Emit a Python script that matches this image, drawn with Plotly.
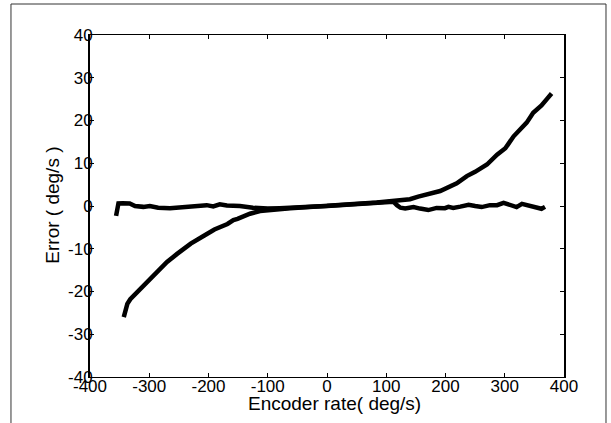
import plotly.graph_objects as go

# Curve 1: large cubic-like error
x1 = [-343, -340, -337, -332, -315, -298, -281, -270, -253, -237, -230, -207, -197, -190,
      -168, -158, -151, -135, -130, -113, -96, -62, -17, 0, 39, 84, 112, 120, 129, 140,
      154, 169, 191, 219, 236, 250, 270, 287, 301, 315, 337, 348, 362, 371, 379]
y1 = [-26.0, -24.0, -22.9, -21.8, -19.4, -17.0, -14.7, -13.1, -11.2, -9.3, -8.8, -6.9, -5.9, -5.5,
      -4.2, -3.3, -3.0, -2.0, -1.8, -1.2, -0.9, -0.5, -0.1, 0.0, 0.4, 0.8, 1.2, 1.5, 1.6, 1.6,
      2.2, 2.7, 3.5, 5.3, 7.0, 8.0, 9.7, 12.0, 13.5, 16.3, 19.5, 21.8, 23.5, 25.0, 26.3]

# Curve 2: compensated (flat) error
x2 = [-356, -352, -345, -333, -324, -310, -299, -285, -265, -243, -226, -214, -203, -192,
      -181, -169, -147, -125, -113, -100, -80, -60, -40, -20, 0, 20, 40, 60, 80, 100, 112,
      118, 124, 132, 146, 157, 171, 185, 199, 205, 213, 225, 239, 250, 261, 275, 287, 298,
      309, 320, 329, 340, 351, 362, 368]
y2 = [-2.3, 0.6, 0.65, 0.6, 0.0, -0.2, 0.0, -0.4, -0.5, -0.25, -0.2, 0.0, 0.2, -0.1,
      0.4, 0.1, 0.0, -0.4, -0.6, -0.6, -0.5, -0.45, -0.3, -0.1, 0.0, 0.15, 0.3, 0.4, 0.6, 0.8, 1.0,
      0.2, -0.4, -0.6, -0.25, -0.6, -0.95, -0.45, -0.5, -0.2, -0.45, -0.15, 0.3, 0.0, -0.25, 0.2,
      0.2, 0.75, 0.2, -0.25, 0.5, 0.1, -0.25, -0.65, -0.2]

x_ticks = [-400, -300, -200, -100, 0, 100, 200, 300, 400]
y_ticks = [-40, -30, -20, -10, 0, 10, 20, 30, 40]
x_title = "Encoder rate( deg/s)"
y_title = "Error ( deg/s )"

FONT = "Arial, Liberation Sans, sans-serif"

fig = go.Figure()
for xs, ys in [(x1, y1), (x2, y2)]:
    fig.add_trace(go.Scatter(x=xs, y=ys, mode="lines",
                             line=dict(color="black", width=4.5),
                             showlegend=False, hoverinfo="skip"))

fig.update_layout(
    width=611, height=423,
    margin=dict(l=90, r=47, t=35, b=46),
    paper_bgcolor="white", plot_bgcolor="white",
    font=dict(family=FONT, size=17, color="black"),
    xaxis=dict(range=[-400, 400], tickvals=x_ticks, ticktext=[str(v) for v in x_ticks],
               ticks="inside", ticklen=4, tickwidth=1, tickcolor="black",
               showline=True, linecolor="black", linewidth=1, mirror="allticks",
               showgrid=False, zeroline=False, ticklabelstandoff=-6,
               automargin=False),
    yaxis=dict(range=[-40, 40], tickvals=y_ticks, ticktext=[str(v) for v in y_ticks],
               ticks="inside", ticklen=4, tickwidth=1, tickcolor="black",
               showline=True, linecolor="black", linewidth=2, mirror="allticks",
               showgrid=False, zeroline=False, ticklabelstandoff=-8,
               automargin=False),
    annotations=[
        dict(text=x_title, xref="paper", yref="paper", x=0.516, y=-0.078,
             xanchor="center", yanchor="middle", showarrow=False, font=dict(size=19)),
        dict(text=y_title, xref="paper", yref="paper", x=-0.078, y=0.501, textangle=-90,
             xanchor="center", yanchor="middle", showarrow=False, font=dict(size=19)),
    ],
    shapes=[dict(type="rect", xref="paper", yref="paper",
                 x0=-0.1667, x1=1.0886, y0=-0.2, y1=1.0906,
                 line=dict(color="#333333", width=1), layer="below")],
)

fig.write_html("out.html", config={"displayModeBar": False},
               post_script="document.body.style.margin='0';")
